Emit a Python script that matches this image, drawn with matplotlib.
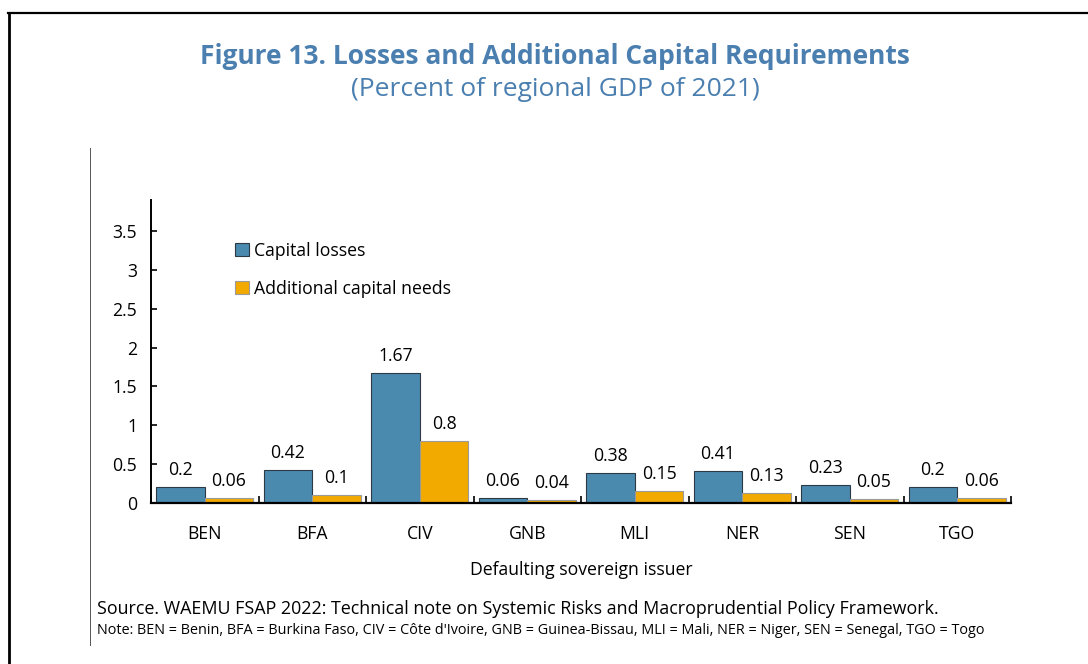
import matplotlib
matplotlib.use('Agg')
import matplotlib.pyplot as plt
from matplotlib.lines import Line2D
import numpy as np

# data
issuers = ['BEN', 'BFA', 'CIV', 'GNB', 'MLI', 'NER', 'SEN', 'TGO']
capital_losses = [0.2, 0.42, 1.67, 0.06, 0.38, 0.41, 0.23, 0.2]
additional_needs = [0.06, 0.1, 0.8, 0.04, 0.15, 0.13, 0.05, 0.06]
y_ticks = [0, 0.5, 1, 1.5, 2, 2.5, 3, 3.5]

blue = '#4a8aae'
orange = '#f2aa00'
title_col = '#4a7fb0'
fs = 12.7

plt.rcParams['font.family'] = ['Open Sans', 'DejaVu Sans']

W, H = 1088, 664
fig = plt.figure(figsize=(W / 100, H / 100), dpi=100)

def fx(px):
	return px / W

def fy(py):
	return 1 - py / H

#outer frame and thin gray separator
fig.add_artist(Line2D([fx(8), 1.0], [fy(13), fy(13)], color='black', lw=1.6))
fig.add_artist(Line2D([fx(9), fx(9)], [fy(13), 0.0], color='black', lw=2.0))
fig.add_artist(Line2D([fx(90), fx(90)], [fy(148), fy(645)], color='#555555', lw=0.7))

fig.text(fx(555), fy(57), 'Figure 13. Losses and Additional Capital Requirements',
	ha='center', va='center', fontsize=19, fontweight='bold', color=title_col)
fig.text(fx(555), fy(89), '(Percent of regional GDP of 2021)',
	ha='center', va='center', fontsize=19, color=title_col)

ax = fig.add_axes([fx(151), fy(503), fx(1011) - fx(151), (503 - 200) / H])

x = np.arange(len(issuers))
bw = 0.452
b1 = ax.bar(x - bw / 2, capital_losses, bw, color=blue, edgecolor='#2b3a44', linewidth=0.8,
	label='Capital losses')
b2 = ax.bar(x + bw / 2, additional_needs, bw, color=orange, edgecolor='#9a9a9a', linewidth=0.8,
	label='Additional capital needs')

for bars, vals in ((b1, capital_losses), (b2, additional_needs)):
	for r, v in zip(bars, vals):
		ax.annotate('{:g}'.format(v), (r.get_x() + r.get_width() / 2, r.get_height()),
			xytext=(0, 6), textcoords='offset points', ha='center', va='bottom', fontsize=fs)

ax.set_xlim(-0.5, len(issuers) - 0.5)
ax.set_ylim(0, 3.9)
ax.set_yticks(y_ticks)
ax.set_yticklabels(['{:g}'.format(t) for t in y_ticks], fontsize=fs)
ax.tick_params(axis='y', direction='in', length=4, width=1.2, pad=10)

# category labels centred, tick marks between categories
ax.set_xticks(x)
ax.set_xticklabels(issuers, fontsize=fs)
ax.tick_params(axis='x', length=0, pad=16)
ax.set_xticks(np.arange(len(issuers) + 1) - 0.5, minor=True)
ax.tick_params(axis='x', which='minor', direction='in', length=5, width=1.2)

for s in ('top', 'right'):
	ax.spines[s].set_visible(False)
ax.spines['left'].set_linewidth(1.4)
ax.spines['bottom'].set_linewidth(1.6)

ax.set_xlabel('Defaulting sovereign issuer', fontsize=fs, labelpad=13)

ax.legend(loc='upper left', bbox_to_anchor=(0.098, 0.862), frameon=False, fontsize=fs,
	handlelength=0.75, handleheight=0.75, handletextpad=0.3, labelspacing=1.12,
	borderpad=0, borderaxespad=0)

fig.text(fx(97), fy(609), 'Source. WAEMU FSAP 2022: Technical note on Systemic Risks and Macroprudential Policy Framework.',
	ha='left', va='center', fontsize=12.9)
fig.text(fx(97), fy(631), "Note: BEN = Benin, BFA = Burkina Faso, CIV = C\u00f4te d'Ivoire, GNB = Guinea-Bissau, MLI = Mali, NER = Niger, SEN = Senegal, TGO = Togo",
	ha='left', va='center', fontsize=10.4)

fig.savefig('out.png', dpi=100)
